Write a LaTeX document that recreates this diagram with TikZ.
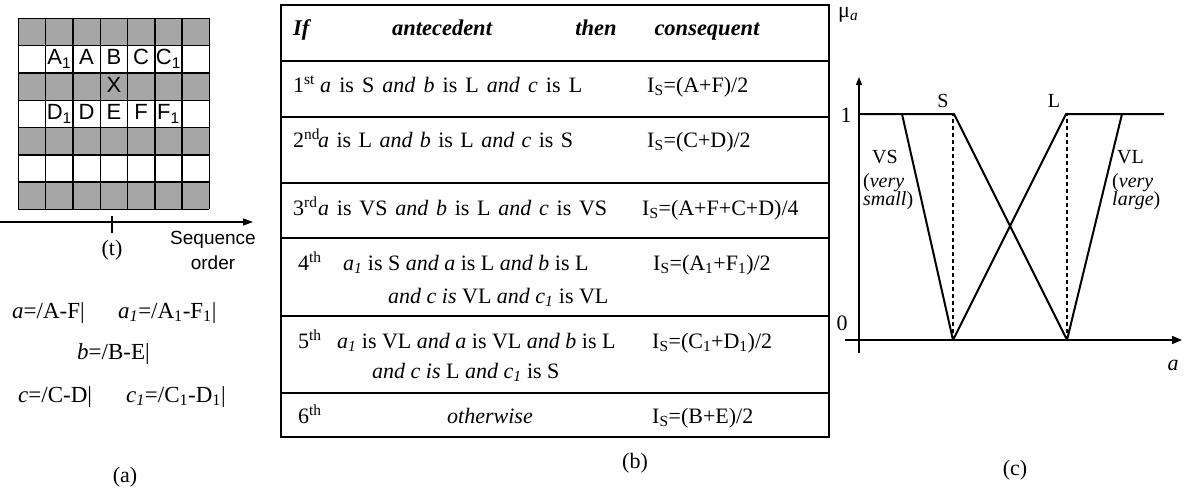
\documentclass[tikz,border=0pt]{standalone}
\usepackage{fontspec}
\setmainfont{Liberation Serif}
\setsansfont{Liberation Sans}
\usetikzlibrary{arrows.meta, positioning}
\definecolor{fcell}{HTML}{A6A6A6}
\definecolor{fink}{HTML}{000000}
\tikzset{
  celltxt/.style={font=\sffamily\fontsize{22}{24}\selectfont, inner sep=0pt, anchor=base},
  serif/.style={font=\fontsize{22}{26}\selectfont, inner sep=0pt},
  rtxt/.style={serif, anchor=base west},
  ctxt/.style={serif, anchor=base},
  ftxt/.style={rtxt, font=\fontsize{23}{26}\selectfont},
  htxt/.style={ctxt, font=\bfseries\itshape\fontsize{22.5}{26}\selectfont},
  mflab/.style={font=\fontsize{20}{24}\selectfont, inner sep=0pt, anchor=base west},
  gridln/.style={fink, line width=1.4pt},
  tblbox/.style={fink, line width=2pt},
  tblln/.style={fink, line width=1.7pt},
  mfline/.style={fink, line width=2pt, line join=round},
  axisln/.style={fink, line width=1.4pt},
  guide/.style={fink, line width=1.4pt, dash pattern=on 4pt off 3pt},
}

\begin{document}
\begin{tikzpicture}[x=1pt, y=-1pt]
  \useasboundingbox (0,0) rectangle (1184,488);

  %% ── (a) neighbourhood grid ──
  \begin{scope}[shift={(18.3,18.3)}, x=27.3pt, y=-27.3pt]
    \foreach \r in {0,2,4,6}
      \fill[fcell] (0,\r) rectangle (7,\r+1);
    \foreach \i in {0,...,7} {
      \draw[gridln] (\i,0) -- (\i,7);
      \draw[gridln] (0,\i) -- (7,\i);
    }
    % Pixel labels
    \node[celltxt] (cA1) at (1.5,1.71) {A\textsubscript{1}};
    \node[celltxt] (cA)  at (2.5,1.71) {A};
    \node[celltxt] (cB)  at (3.5,1.71) {B};
    \node[celltxt] (cC)  at (4.5,1.71) {C};
    \node[celltxt] (cC1) at (5.5,1.71) {C\textsubscript{1}};
    \node[celltxt] (cX)  at (3.5,2.71) {X};
    \node[celltxt] (cD1) at (1.5,3.71) {D\textsubscript{1}};
    \node[celltxt] (cD)  at (2.5,3.71) {D};
    \node[celltxt] (cE)  at (3.5,3.71) {E};
    \node[celltxt] (cF)  at (4.5,3.71) {F};
    \node[celltxt] (cF1) at (5.5,3.71) {F\textsubscript{1}};
  \end{scope}

  % Sequence axis
  \coordinate (seqL) at (0,222);
  \coordinate (seqR) at (253,222);
  \coordinate (tickT) at (112,216);
  \coordinate (tickB) at (112,233);
  \draw[axisln, -{Triangle[length=10pt,width=7pt]}] (seqL) -- (seqR);
  \draw[axisln] (tickT) -- (tickB);
  \node[serif] (tlab) at (112,250) {(t)};
  \node[font=\sffamily\fontsize{19}{25}\selectfont, align=center, inner sep=0pt] (seqlab) at (213,250) {Sequence\\order};

  % Differences
  \node[ftxt] (da)  at (12,318)  {\textit{a}=/A-F|};
  \node[ftxt] (da1) at (118,318) {\textit{a\textsubscript{1}}=/A\textsubscript{1}-F\textsubscript{1}|};
  \node[ftxt] (db)  at (77,359)  {\textit{b}=/B-E|};
  \node[ftxt] (dc)  at (18,402)  {\textit{c}=/C-D|};
  \node[ftxt] (dc1) at (126,402) {\textit{c\textsubscript{1}}=/C\textsubscript{1}-D\textsubscript{1}|};
  \node[serif] (capa) at (125,477) {(a)};

  %% ── (b) rule table ──
  \draw[tblbox] (281,5) rectangle (829,437);
  \foreach \y in {61,117,183,238,316,393}
    \draw[tblln] (281,\y) -- (829,\y);

  \node[htxt, anchor=base west] (hif) at (293,35) {If};
  \node[htxt] (hant) at (442,35) {antecedent};
  \node[htxt] (hthen) at (596,35) {then};
  \node[htxt] (hcons) at (707,35) {consequent};

  \node[rtxt] (n1) at (293,92) {1\textsuperscript{st}};
  \node[rtxt] (r1) at (320,92) {\makebox[262pt][s]{\textit{a} is S \textit{and b} is L \textit{and c} is L}};
  \node[rtxt] (q1) at (647,92) {I\textsubscript{S}=(A+F)/2};

  \node[rtxt] (n2) at (293,147) {2\textsuperscript{nd}};
  \node[rtxt] (r2) at (318,147) {\makebox[255pt][s]{\textit{a} is L \textit{and b} is L \textit{and c} is S}};
  \node[rtxt] (q2) at (647,147) {I\textsubscript{S}=(C+D)/2};

  \node[rtxt] (n3) at (293,215) {3\textsuperscript{rd}};
  \node[rtxt] (r3) at (318,215) {\makebox[289pt][s]{\textit{a} is VS \textit{and b} is L \textit{and c} is VS}};
  \node[rtxt] (q3) at (642,215) {I\textsubscript{S}=(A+F+C+D)/4};

  \node[rtxt] (n4) at (298,270) {4\textsuperscript{th}};
  \node[rtxt] (r4a) at (343,270) {\textit{a\textsubscript{1}} is S \textit{and a} is L \textit{and b} is L};
  \node[rtxt] (r4b) at (388,303) {\textit{and c is} VL \textit{and c\textsubscript{1}} is VL};
  \node[rtxt] (q4) at (653,270) {I\textsubscript{S}=(A\textsubscript{1}+F\textsubscript{1})/2};

  \node[rtxt] (n5) at (298,348) {5\textsuperscript{th}};
  \node[rtxt] (r5a) at (337,348) {\textit{a\textsubscript{1}} is VL \textit{and a} is VL \textit{and b} is L};
  \node[rtxt] (r5b) at (372,378) {\textit{and c is} L \textit{and c\textsubscript{1}} is S};
  \node[rtxt] (q5) at (652,348) {I\textsubscript{S}=(C\textsubscript{1}+D\textsubscript{1})/2};

  \node[rtxt] (n6) at (298,423) {6\textsuperscript{th}};
  \node[ctxt] (r6) at (490,423) {\textit{otherwise}};
  \node[rtxt] (q6) at (652,423) {I\textsubscript{S}=(B+E)/2};

  \node[serif] (capb) at (635,463) {(b)};

  %% ── (c) membership functions ──
  \coordinate (yo) at (859,353);
  \coordinate (ytop) at (859,77);
  \coordinate (xo) at (845,340);
  \coordinate (xend) at (1182,340);
  \draw[axisln, -{Triangle[length=8pt,width=6pt]}] (yo) -- (ytop);
  \draw[axisln, -{Triangle[length=10pt,width=8pt]}] (xo) -- (xend);

  \coordinate (one) at (859,114);
  \coordinate (vsTop) at (902,114);
  \coordinate (sTop) at (954,114);
  \coordinate (sFoot) at (953,340);
  \coordinate (lTop) at (1066,114);
  \coordinate (lFoot) at (1067,340);
  \coordinate (vlTop) at (1122,114);
  \coordinate (rEnd) at (1164,114);

  \draw[guide] (sFoot) -- (sFoot |- one);
  \draw[guide] (lFoot) -- (lFoot |- one);
  \draw[mfline] (one) -- (sTop) -- (lFoot);
  \draw[mfline] (vsTop) -- (sFoot) -- (lTop) -- (rEnd);
  \draw[mfline] (vlTop) -- (lFoot);

  \node[rtxt] (mu) at (838,17) {μ\textsubscript{\textit{a}}};
  \node[serif] (lone) at (846,115) {1};
  \node[serif] (lzero) at (842,323) {0};
  \node[serif] (xlab) at (1173,365) {\textit{a}};
  \node[mflab, anchor=base] (ls) at (943,107) {S};
  \node[mflab, anchor=base] (ll) at (1054,107) {L};
  \node[mflab] (lvs) at (872,163) {VS};
  \node[mflab] (lvs2) at (863,187) {(\textit{very}};
  \node[mflab] (lvs3) at (863,205) {\textit{small})};
  \node[mflab] (lvl) at (1117,163) {VL};
  \node[mflab] (lvl2) at (1112,187) {(\textit{very}};
  \node[mflab] (lvl3) at (1112,205) {\textit{large})};
  \node[serif] (capc) at (1015,470) {(c)};
\end{tikzpicture}
\end{document}
